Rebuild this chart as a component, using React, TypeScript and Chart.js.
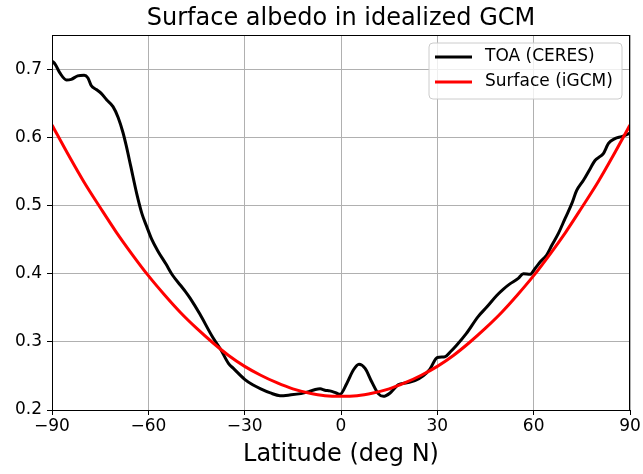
import React, { useEffect, useRef } from "react";
import { Chart, registerables } from "chart.js";

Chart.register(...registerables);

const chartTitle = "Surface albedo in idealized GCM";
const xAxisTitle = "Latitude (deg N)";
const xTicks = [-90, -60, -30, 0, 30, 60, 90];
const yTicks = [0.2, 0.3, 0.4, 0.5, 0.6, 0.7];

const toaLabel = "TOA (CERES)";
const toaLat = [
  -90, -89, -87.5, -85.5, -84, -82, -80, -78.8, -77.8, -76.2, -74.6, -73, -71, -69.4, -67.9, -66.9,
  -65.5, -63.6, -62, -60.5, -59, -57, -54.5, -52.5, -50, -48.5, -47, -44, -40, -37.5, -35, -33.5,
  -30, -27.5, -25, -22, -19, -16, -12.5, -10, -8, -6.5, -5, -3.5, -1.5, -0.3, 1.8, 3.9, 5.6, 7.5,
  9.6, 11.6, 13.2, 15.3, 17.8, 20.5, 23, 25.6, 27.7, 30, 32.4, 34, 36, 39, 42.7, 45.4, 48.5, 50.5,
  52.6, 55.2, 56.8, 58.9, 60.5, 62, 64, 65.7, 67.7, 69.8, 71.9, 73.4, 75.5, 77.6, 79.1, 80.7, 81.7,
  83.3, 85.3, 87.4, 89.5, 90,
];
const toaVal = [
  0.712, 0.707, 0.694, 0.684, 0.685, 0.69, 0.691, 0.687, 0.676, 0.67, 0.664, 0.655, 0.645, 0.629, 0.607, 0.588,
  0.558, 0.517, 0.488, 0.469, 0.451, 0.433, 0.414, 0.398, 0.383, 0.374, 0.364, 0.341, 0.307, 0.289, 0.268, 0.261,
  0.245, 0.237, 0.231, 0.225, 0.221, 0.222, 0.224, 0.227, 0.23, 0.231, 0.229, 0.228, 0.225, 0.223, 0.239, 0.259, 0.267, 0.261,
  0.241, 0.224, 0.22, 0.225, 0.237, 0.24, 0.243, 0.25, 0.26, 0.277, 0.278, 0.285, 0.295, 0.312, 0.337, 0.351, 0.368, 0.377,
  0.385, 0.393, 0.4, 0.399, 0.408, 0.417, 0.427, 0.442, 0.459, 0.481, 0.503, 0.522, 0.537, 0.554, 0.566, 0.572, 0.576,
  0.591, 0.598, 0.601, 0.605, 0.606,
];

const sfcLabel = "Surface (iGCM)";
const sfcLat = [
  -90, -85, -80, -75, -70, -65, -60, -55, -50, -45, -40, -35, -30, -25, -20, -15, -10, -5, 0,
  5, 10, 15, 20, 25, 30, 35, 40, 45, 50, 55, 60, 65, 70, 75, 80, 85, 90,
];
const sfcVal = [
  0.618, 0.575, 0.534, 0.497, 0.461, 0.428, 0.397, 0.369, 0.343, 0.32, 0.299, 0.28, 0.264, 0.251, 0.24, 0.231, 0.225, 0.221, 0.22,
  0.221, 0.225, 0.231, 0.24, 0.251, 0.264, 0.28, 0.299, 0.32, 0.343, 0.369, 0.397, 0.428, 0.461, 0.497, 0.534, 0.575, 0.618,
];

const FONT = "'DejaVu Sans', sans-serif";

const decorPlugin = {
  id: "decor",
  afterDatasetsDraw(chart: any) {
    const { ctx, chartArea } = chart;
    ctx.save();
    // frame
    ctx.strokeStyle = "#000";
    ctx.lineWidth = 1;
    ctx.strokeRect(
      Math.round(chartArea.left) + 0.5,
      Math.round(chartArea.top) + 0.5,
      Math.round(chartArea.right - chartArea.left) - 1,
      Math.round(chartArea.bottom - chartArea.top)
    );
    // title
    ctx.fillStyle = "#000";
    ctx.font = `24px ${FONT}`;
    ctx.textAlign = "center";
    ctx.textBaseline = "alphabetic";
    ctx.fillText(chartTitle, (chartArea.left + chartArea.right) / 2, 25);
    // legend
    const bx = 429, by = 43, bw = 193, bh = 56, r = 4;
    ctx.beginPath();
    ctx.moveTo(bx + r, by);
    ctx.arcTo(bx + bw, by, bx + bw, by + bh, r);
    ctx.arcTo(bx + bw, by + bh, bx, by + bh, r);
    ctx.arcTo(bx, by + bh, bx, by, r);
    ctx.arcTo(bx, by, bx + bw, by, r);
    ctx.closePath();
    ctx.fillStyle = "rgba(255,255,255,0.8)";
    ctx.fill();
    ctx.strokeStyle = "#cccccc";
    ctx.lineWidth = 1;
    ctx.stroke();
    const items = [
      { label: toaLabel, color: "#000000", y: 57 },
      { label: sfcLabel, color: "#ff0000", y: 82 },
    ];
    ctx.font = `17px ${FONT}`;
    ctx.textAlign = "left";
    ctx.textBaseline = "middle";
    for (const it of items) {
      ctx.strokeStyle = it.color;
      ctx.lineWidth = 3;
      ctx.beginPath();
      ctx.moveTo(435, it.y);
      ctx.lineTo(472, it.y);
      ctx.stroke();
      ctx.fillStyle = "#000";
      ctx.fillText(it.label, 485, it.y);
    }
    ctx.restore();
  },
};

export default function App() {
  const ref = useRef<HTMLCanvasElement>(null);
  useEffect(() => {
    document.body.style.margin = "0";
    const canvas = ref.current!;
    const chart = new Chart(canvas, {
      type: "line",
      data: {
        datasets: [
          {
            label: toaLabel,
            data: toaLat.map((x, i) => ({ x, y: toaVal[i] })),
            borderColor: "#000000",
            borderWidth: 3,
            pointRadius: 0,
            cubicInterpolationMode: "monotone",
            fill: false,
            order: 1,
          },
          {
            label: sfcLabel,
            data: sfcLat.map((x, i) => ({ x, y: sfcVal[i] })),
            borderColor: "#ff0000",
            borderWidth: 3,
            pointRadius: 0,
            cubicInterpolationMode: "monotone",
            fill: false,
            order: 0,
          },
        ],
      },
      options: {
        responsive: false,
        animation: false,
        layout: { padding: { top: 35, right: 13, left: 0, bottom: 0 } },
        plugins: {
          legend: { display: false },
          title: { display: false },
          tooltip: { enabled: false },
        },
        scales: {
          x: {
            type: "linear",
            min: -90,
            max: 90,
            afterBuildTicks: (s: any) => {
              s.ticks = xTicks.map((v) => ({ value: v }));
            },
            afterFit: (s: any) => {
              s.height = 64;
            },
            grid: { color: "#b0b0b0", lineWidth: 1, tickColor: "#000", tickLength: 5 },
            border: { display: true, color: "#000", width: 1 },
            ticks: {
              color: "#000",
              font: { family: FONT, size: 17 },
              padding: 1,
              maxRotation: 0,
              callback: (v: any) => (v < 0 ? "\u2212" + Math.abs(v) : String(v)),
            },
            title: {
              display: true,
              text: xAxisTitle,
              color: "#000",
              font: { family: FONT, size: 24 },
              padding: { top: 0, bottom: 5 },
            },
          },
          y: {
            type: "linear",
            min: 0.2,
            max: 0.75,
            afterBuildTicks: (s: any) => {
              s.ticks = yTicks.map((v) => ({ value: v }));
            },
            afterFit: (s: any) => {
              s.width = 52;
            },
            grid: { color: "#b0b0b0", lineWidth: 1, tickColor: "#000", tickLength: 5 },
            border: { display: true, color: "#000", width: 1 },
            ticks: {
              color: "#000",
              font: { family: FONT, size: 17 },
              padding: 5,
              callback: (v: any) => Number(v).toFixed(1),
            },
          },
        },
      },
      plugins: [decorPlugin],
    } as any);
    return () => chart.destroy();
  }, []);
  return (
    <div style={{ width: 643, height: 474 }}>
      <canvas ref={ref} width={643} height={474} />
    </div>
  );
}
